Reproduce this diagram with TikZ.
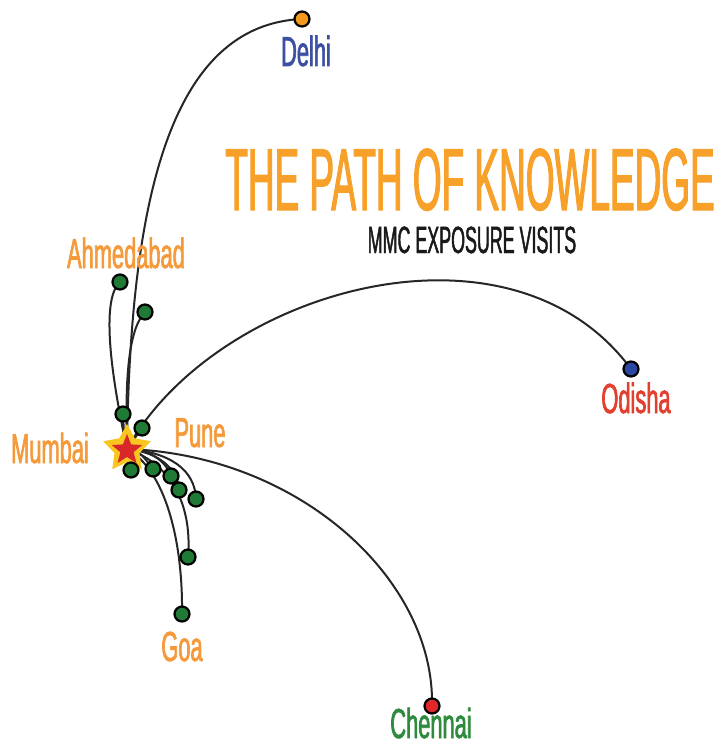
\documentclass[tikz,border=0pt]{standalone}
\usepackage{fontspec}
\setmainfont{Liberation Sans}
\newfontfamily\labfont[FakeStretch=0.52,FakeBold=1.5]{Liberation Sans}
\newfontfamily\titfont[FakeStretch=0.42,FakeBold=1.2]{Liberation Sans}
\newfontfamily\subfont[FakeStretch=0.47,FakeBold=1.2]{Liberation Sans}
\usetikzlibrary{backgrounds,shapes.geometric}
\definecolor{korange}{HTML}{F7A02A}
\definecolor{lorange}{HTML}{F59A3A}
\definecolor{dblue}{HTML}{3C4FA3}
\definecolor{ored}{HTML}{E2402F}
\definecolor{cgreen}{HTML}{2E8B3E}
\definecolor{dotgreen}{HTML}{1F7A35}
\definecolor{staryellow}{HTML}{F9C51F}
\definecolor{starred}{HTML}{D8262B}
\definecolor{dotorange}{HTML}{F39A1E}
\definecolor{dotblue}{HTML}{2B46A3}
\definecolor{dotred}{HTML}{E22629}
\begin{document}
\begin{tikzpicture}[x=1pt,y=-1pt,
  visit/.style={circle,draw=black,line width=2.2pt,minimum size=15pt,inner sep=0pt,fill=dotgreen},
  route/.style={draw=black!85,line width=2pt},
  city/.style={anchor=base,inner sep=0pt,text depth=0pt,font=\labfont\fontsize{42}{42}\selectfont},
]
\useasboundingbox (0,0) rectangle (721,746);

% star (Mumbai)
\node[star,star points=5,star point ratio=1.9,minimum size=50pt,inner sep=0pt,fill=staryellow] (mum) at (127,449) {};
\node[star,star points=5,star point ratio=2.3,minimum size=32pt,inner sep=0pt,fill=starred] (mumin) at (127,450) {};

% destination dots
\node[visit,fill=dotorange] (delhidot) at (302,19) {};
\node[visit,fill=dotblue] (odishadot) at (631,369) {};
\node[visit,fill=dotred] (chennaidot) at (432,706) {};
\node[visit] (a) at (120,282) {};
\node[visit] (b) at (145,312) {};
\node[visit] (c) at (123,414) {};
\node[visit] (d) at (142,428) {};
\node[visit] (e) at (131,470) {};
\node[visit] (f) at (153,469) {};
\node[visit] (g) at (171,476) {};
\node[visit] (h) at (179,490) {};
\node[visit] (i) at (196,499) {};
\node[visit] (j) at (188,557) {};
\node[visit] (k) at (182,614) {};

% labels
\node[city,text=dblue] (delhi) at (306,66) {Delhi};
\node[city,text=ored] (odisha) at (636,413) {Odisha};
\node[city,text=cgreen] (chennai) at (431,738) {Chennai};
\node[city,text=lorange] (mumbai) at (50,463) {Mumbai};
\node[city,text=lorange] (goa) at (182,661) {Goa};
\node[city,text=lorange] (pune) at (200,447) {Pune};
\node[city,text=lorange] (ahmedabad) at (126,268) {Ahmedabad};

% title
\node[anchor=base,inner sep=0pt,text depth=0pt,text=korange,font=\titfont\fontsize{88}{88}\selectfont] (title) at (470,210) {THE PATH OF KNOWLEDGE};
\node[anchor=base,inner sep=0pt,text depth=0pt,text=black!90,font=\subfont\fontsize{38}{38}\selectfont] (subtitle) at (472,253) {MMC EXPOSURE VISITS};

\begin{scope}[on background layer]
\fill[white] (0,0) rectangle (721,746);
\draw[route] (mum.center) .. controls (130,200) and (170,25) .. (delhidot.center);
\draw[route] (mum.center) .. controls (215,290) and (510,205) .. (odishadot.center);
\draw[route] (mum.center) .. controls (300,455) and (435,580) .. (chennaidot.center);
\draw[route] (mum.center) .. controls (112,380) and (100,300) .. (a.center);
\draw[route] (mum.center) .. controls (125,380) and (128,330) .. (b.center);
\draw[route] (mum.center) .. controls (124,435) .. (c.center);
\draw[route] (mum.center) -- (d.center);
\draw[route] (mum.center) -- (e.center);
\draw[route] (mum.center) .. controls (140,452) .. (f.center);
\draw[route] (mum.center) .. controls (150,450) and (165,460) .. (g.center);
\draw[route] (mum.center) .. controls (160,452) and (178,470) .. (h.center);
\draw[route] (mum.center) .. controls (170,452) and (195,470) .. (i.center);
\draw[route] (mum.center) .. controls (175,465) and (192,510) .. (j.center);
\draw[route] (mum.center) .. controls (165,470) and (183,540) .. (k.center);
\end{scope}
\end{tikzpicture}
\end{document}
